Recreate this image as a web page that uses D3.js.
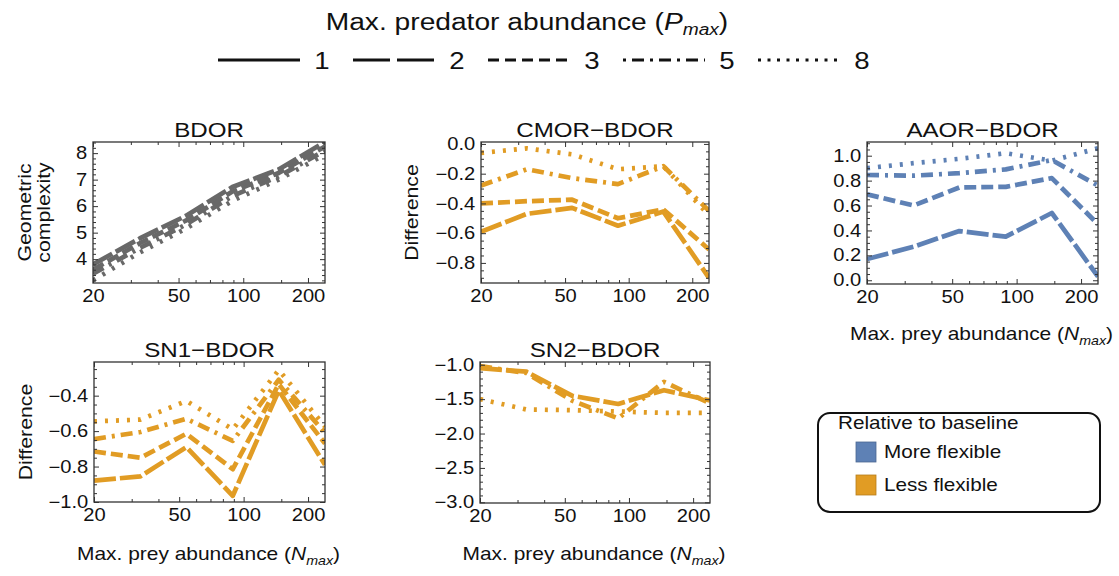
<!DOCTYPE html>
<html>
<head>
<meta charset="UTF-8">
<title>Difference by prey abundance</title>
<script src="https://d3js.org/d3.v7.min.js"></script>
<style>
  body { margin: 0; background: #fff; }
</style>
</head>
<body>
<div id="chart"></div>
<script>
// ---- data ----
const nPrey = [20, 33, 54, 89, 146, 240];      // max. prey abundance
const pMaxLevels = [1, 2, 3, 5, 8];             // legend entries
const xTickValues = [20, 50, 100, 200];
const xMinorValues = [30, 40, 60, 70, 80, 90, 150];

// series order in each panel: P_max = 2, 3, 5, 8
const seriesPMax = [2, 3, 5, 8];
const bdorValues = [
  [3.8, 4.78, 5.63, 6.72, 7.38, 8.42],
  [3.6, 4.6, 5.45, 6.55, 7.25, 8.25],
  [3.45, 4.42, 5.3, 6.38, 7.12, 8.1],
  [3.2, 4.25, 5.15, 6.2, 7.0, 7.95]
];
const cmorValues = [
  [-0.59, -0.47, -0.43, -0.55, -0.455, -0.9],
  [-0.40, -0.385, -0.375, -0.50, -0.44, -0.71],
  [-0.28, -0.17, -0.23, -0.27, -0.15, -0.45],
  [-0.06, -0.03, -0.07, -0.17, -0.15, -0.48]
];
const aaorValues = [
  [0.17, 0.27, 0.395, 0.35, 0.54, 0.03],
  [0.69, 0.6, 0.745, 0.75, 0.82, 0.45],
  [0.845, 0.84, 0.86, 0.89, 0.965, 0.76],
  [0.9, 0.94, 0.975, 1.02, 0.96, 1.06]
];
const sn1Values = [
  [-0.88, -0.855, -0.69, -0.965, -0.37, -0.79],
  [-0.715, -0.75, -0.615, -0.815, -0.335, -0.67],
  [-0.645, -0.605, -0.53, -0.655, -0.31, -0.61],
  [-0.545, -0.535, -0.43, -0.59, -0.255, -0.575]
];
const sn2Values = [
  [-1.05, -1.1, -1.45, -1.57, -1.37, -1.52],
  null,
  [-1.02, -1.12, -1.52, -1.78, -1.25, -1.56],
  [-1.5, -1.65, -1.66, -1.68, -1.7, -1.7]
];

const bdorYTicks = [4, 5, 6, 7, 8];
const cmorYTicks = [-0.8, -0.6, -0.4, -0.2, 0.0];
const aaorYTicks = [0.0, 0.2, 0.4, 0.6, 0.8, 1.0];
const sn1YTicks = [-1.0, -0.8, -0.6, -0.4];
const sn2YTicks = [-3.0, -2.5, -2.0, -1.5, -1.0];

const legendNames = ["More flexible", "Less flexible"];

// ---- styling ----
const FONT = "'Liberation Sans', Arial, Helvetica, sans-serif";
const SX = 1.15;   // glyphs in the reference are a bit wider than tall
const blue = "#5e81b5", orange = "#e19c24", gray = "#686868", frameColor = "#333";
const dashPanel = {1: null, 2: "22,4", 3: "12,5", 5: "12,6,3,6", 8: "3,8"};
const dashLegend = {1: null, 2: "37,7", 3: "11,6", 5: "3,6,12,6", 8: "3,6.5"};

const svg = d3.select("#chart").append("svg")
  .attr("width", 1119).attr("height", 576)
  .style("font-family", FONT);

// text with a small horizontal stretch
function label(parent, x, y, size, anchor) {
  return parent.append("g")
    .attr("transform", `translate(${x},${y}) scale(${SX},1)`)
    .append("text")
    .attr("font-size", size)
    .attr("text-anchor", anchor || "middle")
    .attr("fill", "#111");
}
function withSub(t, before, main, sub, after) {
  t.append("tspan").text(before);
  t.append("tspan").attr("font-style", "italic").text(main);
  t.append("tspan").attr("font-style", "italic").attr("font-size", "0.68em").attr("dy", 5).text(sub);
  t.append("tspan").attr("dy", -5).text(after);
}

const panels = [
  {title: "BDOR", values: bdorValues, color: gray, box: [93, 142, 325, 283],
   yDomain: [3.1, 8.42], yTicks: bdorYTicks, yMinor: 0.2, fmt: d3.format("d"),
   yLabel: ["Geometric", "complexity"], yLabelX: 31},
  {title: "CMOR\u2212BDOR", values: cmorValues, color: orange, box: [481, 142, 709, 283],
   yDomain: [-0.935, 0.013], yTicks: cmorYTicks, yMinor: 0.05, fmt: d3.format(".1f"),
   yLabel: ["Difference"], yLabelX: 418},
  {title: "AAOR\u2212BDOR", values: aaorValues, color: blue, box: [867, 142, 1098, 284],
   yDomain: [-0.03, 1.11], yTicks: aaorYTicks, yMinor: 0.05, fmt: d3.format(".1f"),
   xLabel: true, xLabelY: 340},
  {title: "SN1\u2212BDOR", values: sn1Values, color: orange, box: [94, 362, 325, 502],
   yDomain: [-1.0, -0.21], yTicks: sn1YTicks, yMinor: 0.05, fmt: d3.format(".1f"),
   yLabel: ["Difference"], yLabelX: 32, xLabel: true, xLabelY: 560},
  {title: "SN2\u2212BDOR", values: sn2Values, color: orange, box: [480, 362, 710, 503],
   yDomain: [-3.01, -0.96], yTicks: sn2YTicks, yMinor: 0.1, fmt: d3.format(".1f"),
   xLabel: true, xLabelY: 560}
];

panels.forEach((p, pi) => {
  const [x0, y0, x1, y1] = p.box;
  const g = svg.append("g");
  const x = d3.scaleLog().domain([20, 240]).range([x0, x1]);
  const y = d3.scaleLinear().domain(p.yDomain).range([y1, y0]);

  const clipId = "clip" + pi;
  g.append("clipPath").attr("id", clipId)
    .append("rect").attr("x", x0).attr("y", y0).attr("width", x1 - x0).attr("height", y1 - y0);

  const line = d3.line().x((d, i) => x(nPrey[i])).y(d => y(d));
  const lines = g.append("g").attr("clip-path", `url(#${clipId})`);
  // draw from dotted (top) to long dash so the heavier lines sit on top
  p.values.map((v, i) => ({v, pm: seriesPMax[i]})).filter(s => s.v).reverse().forEach(s => {
    lines.append("path")
      .attr("d", line(s.v))
      .attr("fill", "none")
      .attr("stroke", p.color)
      .attr("stroke-width", 4.7)
      .attr("stroke-dasharray", dashPanel[s.pm])
      .attr("stroke-linejoin", "round");
  });

  // minor ticks in y
  const yMinorValues = d3.range(Math.ceil(p.yDomain[0] / p.yMinor) * p.yMinor, p.yDomain[1], p.yMinor)
    .filter(v => !p.yTicks.some(t => Math.abs(t - v) < 1e-6));

  const axes = [
    {ax: d3.axisBottom(x).tickValues(xTickValues).tickSize(-5).tickPadding(7).tickFormat(d3.format("d")), t: `translate(0,${y1})`},
    {ax: d3.axisBottom(x).tickValues(xMinorValues).tickSize(-3).tickFormat(""), t: `translate(0,${y1})`},
    {ax: d3.axisTop(x).tickValues(xTickValues).tickSize(-5).tickFormat(""), t: `translate(0,${y0})`},
    {ax: d3.axisTop(x).tickValues(xMinorValues).tickSize(-3).tickFormat(""), t: `translate(0,${y0})`},
    {ax: d3.axisLeft(y).tickValues(p.yTicks).tickSize(-5).tickPadding(5).tickFormat(p.fmt), t: `translate(${x0},0)`},
    {ax: d3.axisLeft(y).tickValues(yMinorValues).tickSize(-3).tickFormat(""), t: `translate(${x0},0)`},
    {ax: d3.axisRight(y).tickValues(p.yTicks).tickSize(-5).tickFormat(""), t: `translate(${x1},0)`},
    {ax: d3.axisRight(y).tickValues(yMinorValues).tickSize(-3).tickFormat(""), t: `translate(${x1},0)`}
  ];
  axes.forEach(a => {
    const ga = g.append("g").attr("transform", a.t).call(a.ax)
      .attr("font-family", FONT).attr("font-size", 17.5);
    ga.select(".domain").remove();
    ga.selectAll("line").attr("stroke", frameColor).attr("stroke-width", 1);
    ga.selectAll("text").attr("fill", "#111").attr("transform", `scale(${SX},1)`);
  });

  g.append("rect")
    .attr("x", x0).attr("y", y0).attr("width", x1 - x0).attr("height", y1 - y0)
    .attr("fill", "none").attr("stroke", frameColor).attr("stroke-width", 1.3);

  label(g, (x0 + x1) / 2, y0 - 5, 21).text(p.title);

  if (p.yLabel) {
    const yg = g.append("g").attr("transform", `translate(${p.yLabelX},${(y0 + y1) / 2}) rotate(-90) scale(${SX},1)`);
    p.yLabel.forEach((s, i) => {
      yg.append("text").attr("y", i * 19).attr("text-anchor", "middle")
        .attr("font-size", 18.5).attr("fill", "#111").text(s);
    });
  }
  if (p.xLabel) {
    withSub(label(g, (x0 + x1) / 2 - 1, p.xLabelY, 18.2), "Max. prey abundance (", "N", "max", ")");
  }
});

// ---- top legend: line styles for P_max ----
const styleLegend = svg.append("g");
withSub(label(styleLegend, 527, 30, 24.5), "Max. predator abundance (", "P", "max", ")");
pMaxLevels.forEach((pm, i) => {
  const lx = 218 + i * 135;
  styleLegend.append("line")
    .attr("x1", lx).attr("x2", lx + 82).attr("y1", 60).attr("y2", 60)
    .attr("stroke", "#111").attr("stroke-width", 3)
    .attr("stroke-dasharray", dashLegend[pm]);
  label(styleLegend, lx + 104, 69, 24).text(pm);
});

// ---- colour legend ----
const leg = svg.append("g");
leg.append("rect")
  .attr("x", 818).attr("y", 413).attr("width", 282).attr("height", 99)
  .attr("rx", 12).attr("fill", "#fff").attr("stroke", "#111").attr("stroke-width", 2);
label(leg, 838, 429, 18, "start").text("Relative to baseline");
[blue, orange].forEach((c, i) => {
  const yy = 442 + i * 33;
  leg.append("rect").attr("x", 856).attr("y", yy).attr("width", 20).attr("height", 20)
    .attr("fill", c).attr("stroke", d3.color(c).darker(0.6)).attr("stroke-width", 0.8);
  label(leg, 884, yy + 16, 18, "start").text(legendNames[i]);
});
</script>
</body>
</html>
